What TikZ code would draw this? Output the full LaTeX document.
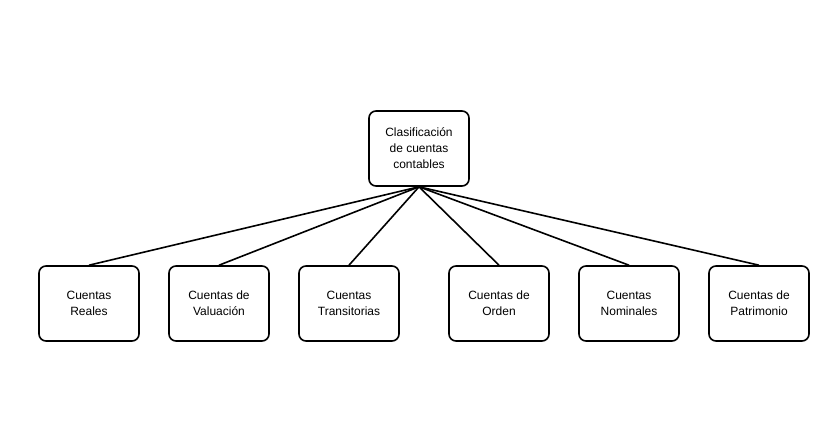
\documentclass[tikz,border=0pt]{standalone}
\usepackage{fontspec}
\setmainfont{Liberation Sans}
\begin{document}
\begin{tikzpicture}[x=1pt,y=-1pt,
  cuenta/.style={rectangle, rounded corners=7pt, draw=black, line width=1.6pt, minimum width=100pt, minimum height=75pt, align=center, font=\fontsize{12}{16}\selectfont}]
  \useasboundingbox (0,0) rectangle (837,437);

  \node[cuenta] (raiz) at (419, 148.5) {Clasificación\\de cuentas\\contables};

  \foreach\name/\x/\txt in {reales/89/{Cuentas\\Reales}, valuacion/219/{Cuentas de\\Valuación},
      transit/349/{Cuentas\\Transitorias}, orden/499/{Cuentas de\\Orden},
      nominal/629/{Cuentas\\Nominales}, patrim/759/{Cuentas de\\Patrimonio}}{
  	\node[cuenta] (\name) at (\x, 303.5) {\txt};
      \draw[line width=1.6pt] (raiz.south) -- (\name.north);
  }
\end{tikzpicture}
\end{document}
